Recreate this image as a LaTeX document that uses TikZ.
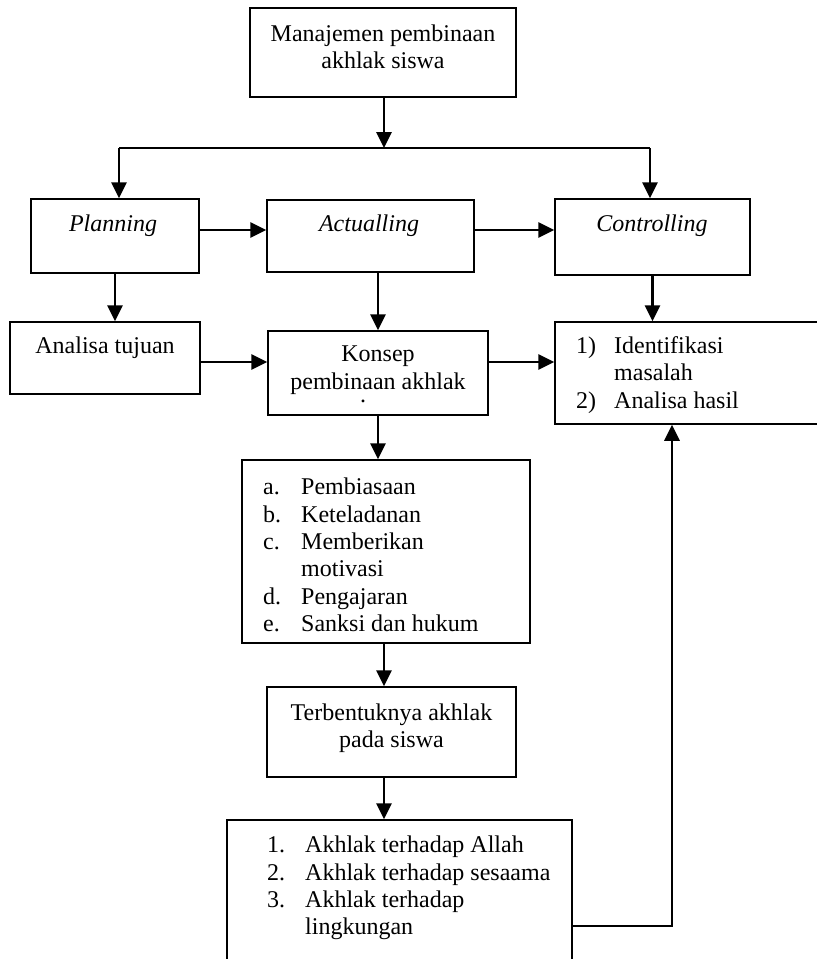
\documentclass[tikz,border=0pt]{standalone}
\usepackage{fontspec}
\setmainfont{Liberation Serif}
\usetikzlibrary{arrows.meta}

\newcommand{\itm}[2]{\makebox[38pt][l]{#1}#2}

\begin{document}
\begin{tikzpicture}[x=1pt,y=-1pt]
\tikzset{ >={Triangle[length=16pt,width=15pt]},
  box/.style={draw, rectangle, line width=1.5pt, inner sep=0pt},
  txt/.style={inner sep=0pt, align=center, font=\fontsize{24}{27.4}\selectfont},
  lst/.style={inner sep=0pt, align=left, anchor=west, font=\fontsize{24}{27.4}\selectfont},
  arr/.style={->, line width=2.8pt},
  ln/.style={line width=2.8pt} }

%\draw [lightgray, dashed](0,0) grid[step=50] (817,959);
\clip (0,0) rectangle (817,959);

% boxes
\node [box, minimum width=266, minimum height=89]  (top)    at (383,52.5) {};
\node [box, minimum width=168, minimum height=74]  (plan)   at (115,236)  {};
\node [box, minimum width=207, minimum height=72]  (act)    at (370.5,236) {};
\node [box, minimum width=195, minimum height=76]  (ctrl)   at (652.5,237) {};
\node [box, minimum width=190, minimum height=72]  (anal)   at (105,358)  {};
\node [box, minimum width=220, minimum height=84]  (konsep) at (378,373)  {};
\node [box, minimum width=275, minimum height=102] (ident)  at (692.5,373) {};
\node [box, minimum width=288, minimum height=183] (metode) at (386,551.5) {};
\node [box, minimum width=249, minimum height=90]  (hasil)  at (391.5,732) {};
\node [box, minimum width=345, minimum height=160] (akhlak) at (399.5,900) {};

% texts
\node [txt] (top-t)    at (383,47)  {Manajemen pembinaan\\akhlak siswa};
\node [txt] (plan-t)   at (113,226) {\itshape Planning};
\node [txt] (act-t)    at (369,226) {\itshape Actualling};
\node [txt] (ctrl-t)   at (652,226) {\itshape Controlling};
\node [txt] (anal-t)   at (105,348) {Analisa tujuan};
\node [txt] (konsep-t) at (378,370) {Konsep\\pembinaan akhlak};
\node [txt] (konsep-d) at (363,401) {.};
\node [lst] (ident-t)  at (576,375) {\itm{1)}{Identifikasi}\\\itm{}{masalah}\\\itm{2)}{Analisa hasil}};
\node [lst] (metode-t) at (263,555) {\itm{a.}{Pembiasaan}\\\itm{b.}{Keteladanan}\\\itm{c.}{Memberikan}\\\itm{}{motivasi}\\\itm{d.}{Pengajaran}\\\itm{e.}{Sanksi dan hukum}};
\node [txt] (hasil-t)  at (391.5,728) {Terbentuknya akhlak\\pada siswa};
\node [lst] (akhlak-t) at (267,888) {\itm{1.}{Akhlak terhadap Allah}\\\itm{2.}{Akhlak terhadap sesaama}\\\itm{3.}{Akhlak terhadap}\\\itm{}{lingkungan}};

% branch under the top box
\coordinate (jn) at (384,148);
\coordinate (jl) at (119,148);
\coordinate (jr) at (650,148);

\draw [arr] (top.south -| jn) -- (jn);
\draw [ln]  (jl) -- (jr);
\draw [arr] (jl) -- (jl |- plan.north);
\draw [arr] (jr) -- (jr |- ctrl.north);

\draw [arr] ([yshift=6pt]plan.east) -- ([yshift=6pt]plan.east -| act.west);
\draw [arr] ([yshift=6pt]act.east)  -- ([yshift=6pt]act.east -| ctrl.west);

\draw [arr] (plan.south) -- (plan.south |- anal.north);
\draw [arr] (konsep.north |- act.south) -- (konsep.north);
\draw [arr] (ctrl.south) -- (ctrl.south |- ident.north);

\draw [arr] ([yshift=-4pt]anal.east)    -- ([yshift=-4pt]anal.east -| konsep.west);
\draw [arr] ([yshift=11pt]konsep.east)  -- ([yshift=11pt]konsep.east -| ident.west);

\draw [arr] (konsep.south) -- (konsep.south |- metode.north);
\draw [arr] (jn |- metode.south) -- (jn |- hasil.north);
\draw [arr] (jn |- hasil.south)  -- (jn |- akhlak.north);

% feedback
\draw [arr] ([yshift=-26pt]akhlak.east) -| ([xshift=-20.5pt]ident.south);

\end{tikzpicture}
\end{document}
